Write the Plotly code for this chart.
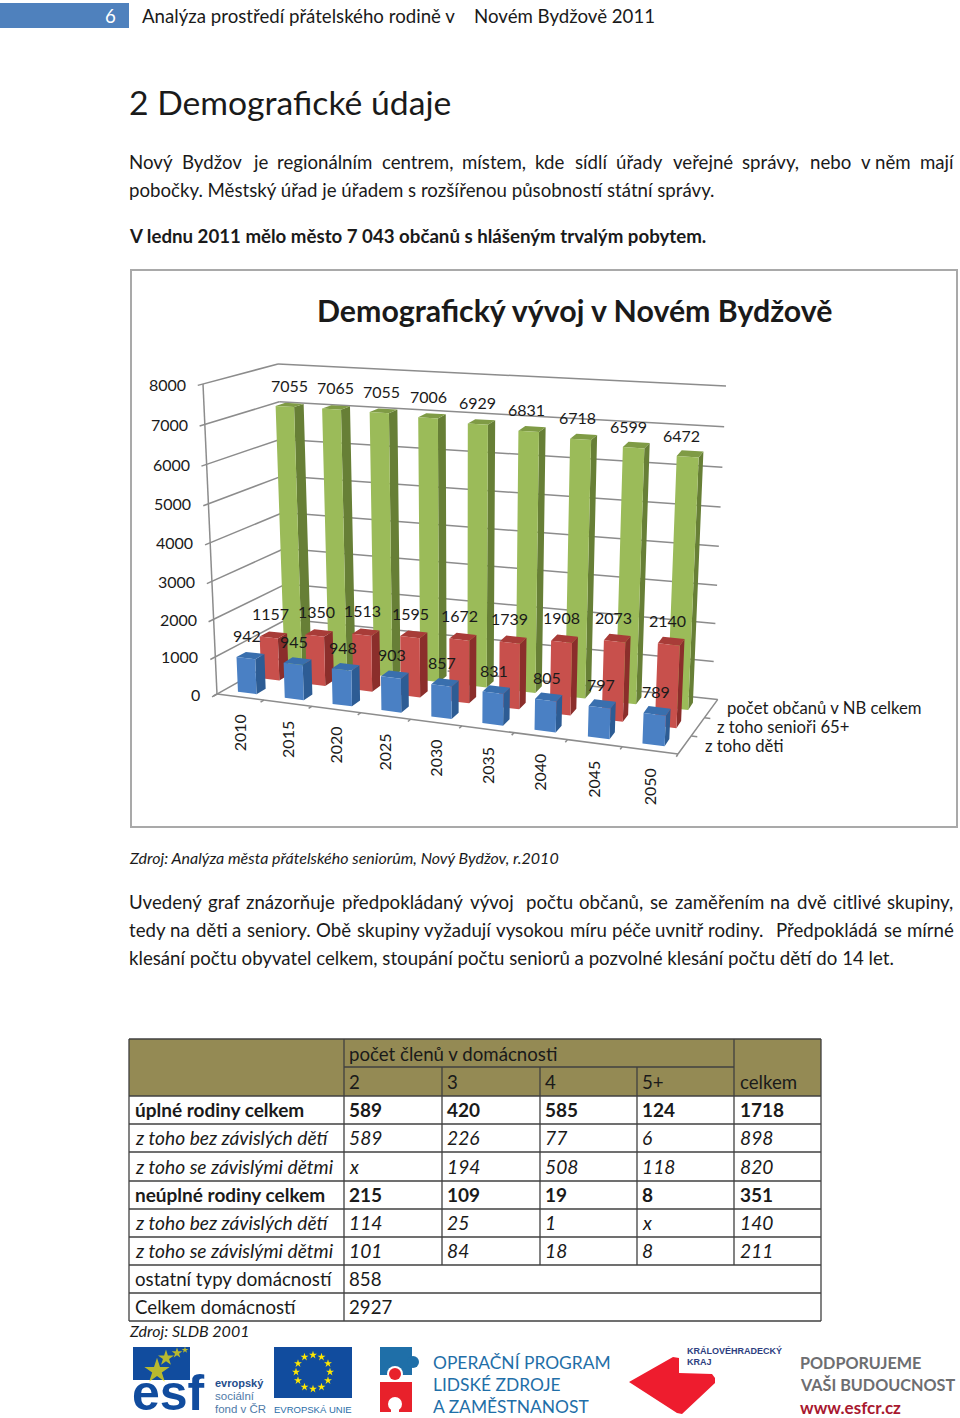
import plotly.graph_objects as go
import unicodedata

# ---------- chart data ----------
years = [2010, 2015, 2020, 2025, 2030, 2035, 2040, 2045, 2050]
deti = [942, 945, 948, 903, 857, 831, 805, 797, 789]
seniori = [1157, 1350, 1513, 1595, 1672, 1739, 1908, 2073, 2140]
celkem = [7055, 7065, 7055, 7006, 6929, 6831, 6718, 6599, 6472]
y_ticks = [0, 1000, 2000, 3000, 4000, 5000, 6000, 7000, 8000]
series_labels = ["z toho děti", "z toho senioři 65+", "počet občanů v NB celkem"]

# ---------- table data ----------
table_head = ["2", "3", "4", "5+"]
table_rows = [
    ["úplné rodiny celkem", "589", "420", "585", "124", "1718"],
    ["z toho bez závislých dětí", "589", "226", "77", "6", "898"],
    ["z toho se závislými dětmi", "x", "194", "508", "118", "820"],
    ["neúplné rodiny celkem", "215", "109", "19", "8", "351"],
    ["z toho bez závislých dětí", "114", "25", "1", "x", "140"],
    ["z toho se závislými dětmi", "101", "84", "18", "8", "211"],
    ["ostatní typy domácností", "858"],
    ["Celkem domácností", "2927"],
]
row_styles = ["bold", "italic", "italic", "bold", "italic", "italic", "normal", "normal"]

FONT = "Lato"
TXT = "#1a1a1a"
BODY = 18.67
fig = go.Figure()
ann = []
shapes = []


def text(x, y, s, size=17, color=TXT, bold=False, italic=False, anchor="left", angle=0, family=FONT):
    if bold:
        s = "<b>" + s + "</b>"
    if italic:
        s = "<i>" + s + "</i>"
    ann.append(dict(x=x, y=y, xref="x", yref="y", text=s, showarrow=False, xanchor=anchor, yanchor="middle",
                    textangle=angle, font=dict(family=family, size=size, color=color), borderpad=0, borderwidth=0))


def rect(x0, y0, x1, y1, fill=None, line=None, width=1, layer="below"):
    shapes.append(dict(type="rect", xref="x", yref="y", x0=x0, y0=y0, x1=x1, y1=y1, fillcolor=fill,
                       line=dict(color=line, width=width if line else 0), layer=layer))


def seg(x0, y0, x1, y1, color="#404040", width=1.3):
    shapes.append(dict(type="line", xref="x", yref="y", x0=x0, y0=y0, x1=x1, y1=y1,
                       line=dict(color=color, width=width), layer="below"))


def poly(pts, fill, layer="above"):
    d = "M" + " L".join(f"{a},{b}" for a, b in pts) + " Z"
    shapes.append(dict(type="path", xref="x", yref="y", path=d, fillcolor=fill, line=dict(width=0), layer=layer))


def circle(cx, cy, r, fill):
    shapes.append(dict(type="circle", xref="x", yref="y", x0=cx - r, y0=cy - r, x1=cx + r, y1=cy + r,
                       fillcolor=fill, line=dict(width=0), layer="below"))


# justified lines: word widths from an em table, gaps share the remaining width
EM = dict(a=.507, b=.562, c=.458, d=.562, e=.516, f=.317, g=.506, h=.548, i=.232, j=.24, k=.5, l=.232, m=.81,
          n=.548, o=.578, p=.556, q=.562, r=.36, s=.43, t=.34, u=.548, v=.5, w=.75, x=.49, y=.5, z=.46,
          N=.74, B=.64, U=.72, O=.78, P=.6)
EM[","] = .24
EM["."] = .24


def word_w(w, size):
    return size * sum(EM.get(unicodedata.normalize("NFD", c)[0], .5) for c in w)


def justified(words, y, x0=129, x1=953, size=BODY):
    """words: list of (word, weight of the gap before it); weight 0 means a fixed narrow gap."""
    total = sum(word_w(w, size) for w, _ in words)
    fixed = sum(4.2 for _, g in words[1:] if g == 0)
    unit = (x1 - x0 - total - fixed) / sum(g for _, g in words[1:])
    x = x0
    for i, (w, g) in enumerate(words):
        if i:
            x += 4.2 if g == 0 else unit * g
        text(x, y, w, size=size)
        x += word_w(w, size)


def W(s, special=None):
    special = special or {}
    return [(w, special.get(w, 1)) for w in s.split()]


# ---------- page text ----------
rect(0, 3, 129, 28, fill="#4F81BD")
text(110, 15.5, "6", size=BODY, color="#ffffff", anchor="center")
text(142, 15.5, "Analýza prostředí přátelského rodině v", size=BODY)
text(474, 15.5, "Novém Bydžově 2011", size=BODY)
text(129, 102, "2 Demografické údaje", size=33.7)

justified(W("Nový Bydžov je regionálním centrem, místem, kde sídlí úřady veřejné správy, nebo v něm mají", {"něm": 0}), 161.6)
text(129, 189.6, "pobočky. Městský úřad je úřadem s rozšířenou působností státní správy.", size=BODY)
text(129, 235.6, "V lednu 2011 mělo město 7 043 občanů s hlášeným trvalým pobytem.", size=BODY, bold=True)
text(129, 857.5, "Zdroj: Analýza města přátelského seniorům, Nový Bydžov, r.2010", size=16, italic=True)
justified(W("Uvedený graf znázorňuje předpokládaný vývoj počtu občanů, se zaměřením na dvě citlivé skupiny,", {"počtu": 2}), 901.6)
justified(W("tedy na děti a seniory. Obě skupiny vyžadují vysokou míru péče uvnitř rodiny. Předpokládá se mírné", {"Předpokládá": 2}), 929.6)
text(129, 957.6, "klesání počtu obyvatel celkem, stoupání počtu seniorů a pozvolné klesání počtu dětí do 14 let.", size=BODY)

# ---------- chart frame ----------
rect(131, 270, 957, 827, fill="#ffffff", line="#A9A9A9", width=2)
text(574, 310, "Demografický vývoj v Novém Bydžově", size=30.3, bold=True, anchor="center")

# ---------- 3-D projection of the chart's axes (trilinear between the cube's corners) ----------
WMAX = 8000.0
C = {
    (0, 0, 0): (217, 694), (0, 0, 1): (203, 384),
    (0, 1, 0): (288, 654), (0, 1, 1): (278, 364),
    (1, 0, 0): (678, 754), (1, 0, 1): (692, 428),
    (1, 1, 0): (712, 699), (1, 1, 1): (726, 386),
}
PERSP = 1.104
PERSP_W = 1.05


def P(u, v, val):
    u = u / (PERSP - (PERSP - 1) * u)  # categories spread out towards the right
    w = val / WMAX
    w = w / (PERSP_W - (PERSP_W - 1) * w)  # value axis spreads out towards the top
    X = Y = 0.0
    for (a, b, c), (px, py) in C.items():
        k = (u if a else 1 - u) * (v if b else 1 - v) * (w if c else 1 - w)
        X += k * px
        Y += k * py
    return X, Y


def line3d(pts, color="#8C8C8C", width=1.5):
    xs, ys = zip(*[P(*p) for p in pts])
    fig.add_trace(go.Scatter(x=xs, y=ys, mode="lines", line=dict(color=color, width=width), hoverinfo="skip", showlegend=False))


for t in y_ticks:
    line3d([(0, -0.07, t), (0, 1, t)])
    if t:
        line3d([(0, 1, t), (1, 1, t)])
line3d([(0, 0, 0), (0, 0, WMAX)])
line3d([(0, 0, 0), (1, 0, 0)])
line3d([(0.4, 1, 0), (1.012, 1, 0), (1, 0, 0)])
for i in range(10):
    line3d([(i / 9, 0, 0), (i / 9, -0.05, 0)])
for j in (1, 2):
    line3d([(1 + .012 * j / 3, j / 3, 0), (1 + .012 * j / 3 + .012, j / 3, 0)])

N = len(years)
BW = 0.40 / N
BD = 0.4 / 3
series = [
    (celkem, 5 / 6, "#9BBB59", "#677F36", "#7F9B45"),
    (seniori, 3 / 6, "#C8504C", "#8B2E2B", "#A83C38"),
    (deti, 1 / 6, "#4A80C4", "#2D5C94", "#396FAE"),
]
for vals, vc, front, side, top in series:
    fx, fy, sx, sy, tx, ty = [], [], [], [], [], []
    for i, val in enumerate(vals):
        uc = (i + 0.5) / N
        u0, u1 = uc - BW / 2, uc + BW / 2
        v0, v1 = vc - BD / 2, vc + BD / 2
        f = [P(u0, v0, 0), P(u1, v0, 0), P(u1, v0, val), P(u0, v0, val), P(u0, v0, 0)]
        s = [P(u1, v0, 0), P(u1, v1, 0), P(u1, v1, val), P(u1, v0, val), P(u1, v0, 0)]
        o = [P(u0, v0, val), P(u1, v0, val), P(u1, v1, val), P(u0, v1, val), P(u0, v0, val)]
        for pts, xx, yy in ((f, fx, fy), (s, sx, sy), (o, tx, ty)):
            xx.extend([p[0] for p in pts] + [None])
            yy.extend([p[1] for p in pts] + [None])
    for xx, yy, col in ((sx, sy, side), (tx, ty, top), (fx, fy, front)):
        fig.add_trace(go.Scatter(x=xx, y=yy, mode="lines", fill="toself", fillcolor=col,
                                 line=dict(width=0, color=col), hoverinfo="skip", showlegend=False))

# data labels, tick labels and category labels placed via the projection
for vals, vc, dy, dx0, dx1 in ((celkem, 5 / 6, -21.5, 5, -6), (seniori, 3 / 6, -24, 2, -1), (deti, 1 / 6, -22.5, 1, 1)):
    for i, val in enumerate(vals):
        X, Y = P((i + 0.5) / N, vc - BD / 2, val)
        text(X + dx0 + (dx1 - dx0) * i / (N - 1), Y + dy, str(val), size=16, anchor="center")
for t in y_ticks:
    X, Y = P(0, 0, t)
    text(X - 17, Y, str(t), size=16, anchor="right")
for i, yr in enumerate(years):
    X, Y = P((i + 0.5) / N, 0, 0)
    text(X - 1, Y + 36, str(yr), size=16, anchor="center", angle=-90)
for s, x, y in zip(series_labels, (705, 717, 727), (745.5, 726.5, 707.5)):
    text(x, y, s, size=16.7)

# ---------- table ----------
cols = [129, 344, 442, 540, 637, 734, 821]
rows = [1039, 1067, 1096, 1124, 1152, 1181, 1209, 1237, 1265, 1293, 1321]
rect(cols[0], rows[0], cols[-1], rows[2], fill="#948A54")
seg(cols[1], rows[1], cols[5], rows[1])
for x in cols[1:6]:
    seg(x, rows[1], x, rows[8])
seg(cols[1], rows[0], cols[1], rows[1])
seg(cols[5], rows[0], cols[5], rows[1])
seg(cols[1], rows[8], cols[1], rows[10])
seg(cols[0], rows[0], cols[-1], rows[0])
seg(cols[0], rows[0], cols[0], rows[-1])
seg(cols[-1], rows[0], cols[-1], rows[-1])
for y in rows[2:]:
    seg(cols[0], y, cols[-1], y)
text(349, 1053.5, "počet členů v domácnosti", size=BODY)
for x, h in zip(cols[1:5], table_head):
    text(x + 5, 1081.5, h, size=BODY)
text(740, 1081.5, "celkem", size=BODY)
STYLE_SIZE = dict(bold=19, italic=19.2, normal=BODY)
for r, (cells, style) in enumerate(zip(table_rows, row_styles)):
    yc = (rows[r + 2] + rows[r + 3]) / 2 - 0.5
    xs = [135] + [c + 5 for c in cols[1:5]] + [740]
    for x, c in zip(xs, cells):
        text(x, yc, c, size=STYLE_SIZE[style], bold=style == "bold", italic=style == "italic")
text(129, 1330, "Zdroj: SLDB 2001", size=16, italic=True)

# ---------- logos ----------
rect(133, 1347, 190, 1380, fill="#114C9E")
text(132, 1393, "esf", size=50, color="#114C9E", bold=True, family="Liberation Sans")
text(215, 1383, "evropský", size=11, color="#1F4E8C", bold=True, family="Liberation Sans")
text(215, 1396, "sociální", size=11.5, color="#4f7aa8", family="Liberation Sans")
text(215, 1409, "fond v ČR", size=11.5, color="#4f7aa8", family="Liberation Sans")
rect(274, 1347, 352, 1398, fill="#114C9E")
text(274, 1409, "EVROPSKÁ UNIE", size=9.5, color="#2A6EA8", family="Liberation Sans")
fig.add_trace(go.Scatter(x=[157, 166, 177, 185], y=[1371, 1358, 1353, 1350], mode="markers", hoverinfo="skip", showlegend=False,
                         marker=dict(symbol="star", color="#FFE800", size=[19, 12, 8, 5], line=dict(width=0))))
eu_x = [313, 321.5, 328, 330, 328, 321.5, 313, 304.5, 298, 296, 298, 304.5]
eu_y = [1355, 1357, 1363.5, 1372, 1380.5, 1387, 1389, 1387, 1380.5, 1372, 1363.5, 1357]
fig.add_trace(go.Scatter(x=eu_x, y=eu_y, mode="markers", hoverinfo="skip", showlegend=False,
                         marker=dict(symbol="star", color="#FFE800", size=6, line=dict(width=0))))
rect(380, 1347, 412, 1375, fill="#1F6FA8")
circle(413, 1362, 6, "#1F6FA8")
circle(395, 1374, 8, "#ffffff")
circle(395, 1374, 6, "#E8212B")
rect(380, 1382, 412, 1412, fill="#E8212B")
circle(395, 1404, 7, "#ffffff")
rect(391, 1405, 399, 1413, fill="#ffffff")
for y, s in zip((1362, 1384, 1406), ("OPERAČNÍ PROGRAM", "LIDSKÉ ZDROJE", "A ZAMĚSTNANOST")):
    text(433, y, s, size=17.4, color="#1F6FA8")
poly([(629, 1382), (673, 1357), (679, 1358), (679, 1373), (712, 1374), (715, 1378), (715, 1383), (682, 1414), (677, 1413)], "#EE1C2E")
text(687, 1350, "KRÁLOVÉHRADECKÝ", size=9, color="#2D3E7F", bold=True, family="Liberation Sans")
text(687, 1362, "KRAJ", size=9, color="#2D3E7F", bold=True, family="Liberation Sans")
text(800, 1362, "PODPORUJEME", size=16.2, color="#6D6E71", bold=True)
text(800, 1384, "VAŠI BUDOUCNOST", size=16.2, color="#6D6E71", bold=True)
text(800, 1407, "www.esfcr.cz", size=17, color="#A8182F", bold=True)

fig.update_layout(
    width=960, height=1418, margin=dict(l=0, r=0, t=0, b=0), paper_bgcolor="#ffffff", plot_bgcolor="#ffffff",
    showlegend=False, annotations=ann, shapes=shapes,
    xaxis=dict(range=[0, 960], visible=False, fixedrange=True),
    yaxis=dict(range=[1418, 0], visible=False, fixedrange=True),
)
fig.write_html("out.html", config={"displayModeBar": False},
               post_script="document.body.style.margin='0';document.body.style.overflow='hidden';")
